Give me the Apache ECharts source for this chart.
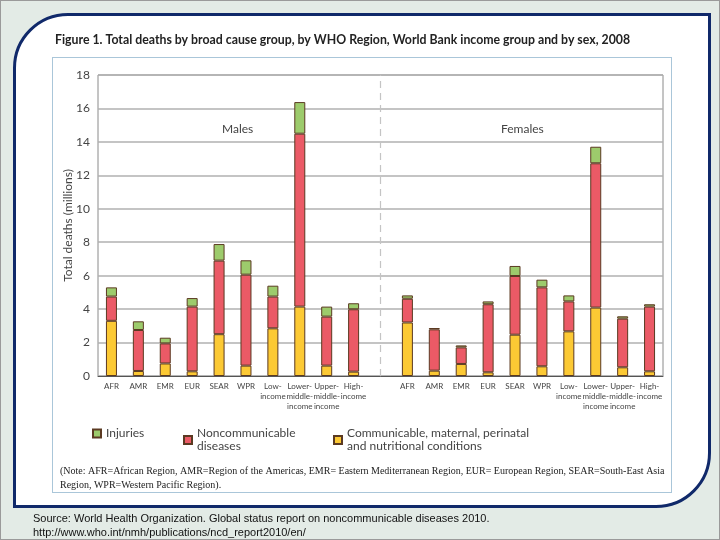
<!DOCTYPE html>
<html>
<head>
<meta charset="utf-8">
<script src="https://cdn.jsdelivr.net/npm/echarts@6/dist/echarts.min.js"></script>
<style>
  html, body { margin: 0; padding: 0; }
  body { width: 720px; height: 540px; position: relative; background: #e3ebe6; overflow: hidden; }
  #frame { position: absolute; left: 0; top: 0; width: 718px; height: 538px; border: 1px solid #9a9a9a; }
  #panel { position: absolute; left: 13px; top: 13px; width: 692px; height: 489px; background: #fff;
           border: 3px solid #10296a; border-radius: 55px 0 55px 0; }
  #box { position: absolute; left: 52px; top: 57px; width: 618px; height: 434px; border: 1px solid #aac6d9; }
  #chart { position: absolute; left: 0; top: 0; width: 720px; height: 540px; }
</style>
</head>
<body>
<div id="frame"></div>
<div id="panel"></div>
<div id="box"></div>
<div id="chart"></div>
<script>
// categories (blank one in the middle splits males / females)
var regions = ['AFR', 'AMR', 'EMR', 'EUR', 'SEAR', 'WPR', 'Low-\nincome', 'Lower-\nmiddle-\nincome', 'Upper-\nmiddle-\nincome', 'High-\nincome'];

// millions of deaths
var maleCommunicable   = [3.3, 0.3, 0.75, 0.28, 2.5, 0.62, 2.85, 4.15, 0.62, 0.26];
var maleNoncommunic    = [1.45, 2.45, 1.2, 3.87, 4.4, 5.44, 1.9, 10.34, 2.93, 3.73];
var maleInjuries       = [0.55, 0.52, 0.34, 0.51, 0.99, 0.86, 0.65, 1.89, 0.6, 0.36];

var femaleCommunicable = [3.2, 0.32, 0.72, 0.22, 2.47, 0.58, 2.67, 4.09, 0.52, 0.28];
var femaleNoncommunic  = [1.42, 2.47, 0.99, 4.07, 3.51, 4.72, 1.79, 8.63, 2.91, 3.87];
var femaleInjuries     = [0.2, 0.08, 0.12, 0.17, 0.6, 0.46, 0.36, 0.99, 0.14, 0.14];

var yTicks = [0, 2, 4, 6, 8, 10, 12, 14, 16, 18];

var categories = regions.concat(['']).concat(regions);
function join(m, f) { return m.concat([null]).concat(f); }

var font = 'Lato, "Noto Sans", sans-serif';
var edge = '#5b3a22';
var legendText = { fontSize: 12, color: '#444', lineHeight: 13 };

var dom = document.getElementById('chart');
var myChart = echarts.init(dom);

var option = {
    animation: false,
    textStyle: { fontFamily: font },
    title: [
        {
            text: 'Figure 1. Total deaths by broad cause group, by WHO Region, World Bank income group and by sex, 2008',
            left: 50, top: 29,
            textStyle: { fontSize: 12.3, fontWeight: 'bold', color: '#222', fontFamily: font }
        },
        {
            text: '(Note: AFR=African Region, AMR=Region of the Americas, EMR= Eastern Mediterranean Region, EUR= European Region, SEAR=South-East Asia\nRegion, WPR=Western Pacific Region).',
            left: 55, top: 459,
            textStyle: { fontSize: 10, fontWeight: 'normal', color: '#222', lineHeight: 14, fontFamily: '"Liberation Serif", serif' }
        },
        {
            text: 'Source: World Health Organization. Global status report on noncommunicable diseases 2010.\nhttp://www.who.int/nmh/publications/ncd_report2010/en/',
            left: 28, top: 507,
            textStyle: { fontSize: 11, fontWeight: 'normal', color: '#111', lineHeight: 14, fontFamily: '"Liberation Sans", Arial, sans-serif' }
        }
    ],
    legend: [
        { data: ['Injuries'], left: 87, top: 422, icon: 'rect', itemWidth: 8, itemHeight: 8, textStyle: legendText },
        { data: ['Noncommunicable\ndiseases'], left: 178, top: 422, icon: 'rect', itemWidth: 8, itemHeight: 8, textStyle: legendText },
        { data: ['Communicable, maternal, perinatal\nand nutritional conditions'], left: 328, top: 422, icon: 'rect', itemWidth: 8, itemHeight: 8, textStyle: legendText }
    ],
    color: ['#fcc934', '#eb5a66', '#9dcb6c'],
    grid: {
        left: 98, right: 57, top: 75, bottom: 164,
        show: true, borderColor: '#8a8a8a', borderWidth: 1
    },
    xAxis: {
        type: 'category',
        data: categories,
        axisTick: { show: false },
        axisLine: { lineStyle: { color: '#555' } },
        axisLabel: { interval: 0, fontSize: 8, color: '#444', lineHeight: 10, margin: 5 }
    },
    yAxis: {
        type: 'value',
        min: 0, max: 18, interval: 2,
        name: 'Total deaths (millions)',
        nameLocation: 'middle',
        nameGap: 24,
        nameMoveOverlap: false,
        nameTextStyle: { fontSize: 12, color: '#444' },
        axisLine: { show: false },
        axisTick: { show: false },
        axisLabel: { fontSize: 12, color: '#444', margin: 8 },
        splitLine: { lineStyle: { color: '#b0b0b0', width: 1.5 } }
    },
    graphic: [
        { type: 'text', left: 222, top: 123, style: { text: 'Males', fontSize: 12, fill: '#444', fontFamily: font } },
        { type: 'text', left: 501, top: 123, style: { text: 'Females', fontSize: 12, fill: '#444', fontFamily: font } }
    ],
    series: [
        {
            name: 'Communicable, maternal, perinatal\nand nutritional conditions',
            type: 'bar', stack: 'deaths', barWidth: 11,
            itemStyle: { borderColor: edge, borderWidth: 1 },
            data: join(maleCommunicable, femaleCommunicable),
            markLine: {
                silent: true, symbol: 'none', label: { show: false },
                lineStyle: { type: [7, 5], color: '#c4c4c4', width: 1.2 },
                data: [{ xAxis: 10 }]
            }
        },
        {
            name: 'Noncommunicable\ndiseases',
            type: 'bar', stack: 'deaths', barWidth: 11,
            itemStyle: { borderColor: edge, borderWidth: 1 },
            data: join(maleNoncommunic, femaleNoncommunic)
        },
        {
            name: 'Injuries',
            type: 'bar', stack: 'deaths', barWidth: 11,
            itemStyle: { borderColor: edge, borderWidth: 1 },
            data: join(maleInjuries, femaleInjuries)
        }
    ]
};

myChart.setOption(option);
</script>
</body>
</html>
